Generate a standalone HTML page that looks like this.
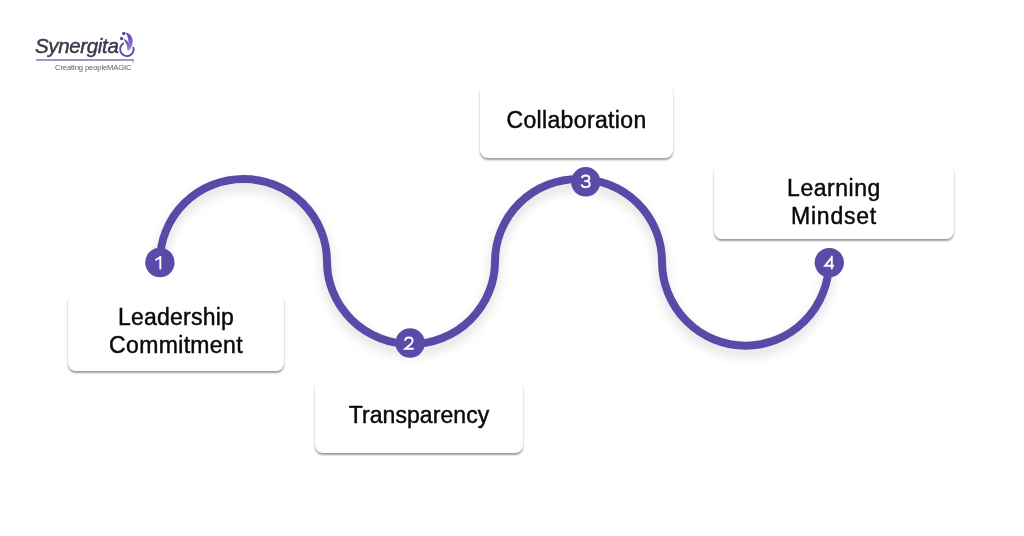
<!DOCTYPE html>
<html>
<head>
<meta charset="utf-8">
<style>
html,body{margin:0;padding:0;}
body{width:1024px;height:536px;background:#ffffff;position:relative;overflow:hidden;font-family:"Liberation Sans",sans-serif;}
.box{position:absolute;background:#fff;border-radius:8px;box-shadow:0 2px 2px rgba(0,0,0,0.38);}
.t{position:absolute;left:0;width:100%;text-align:center;font-size:23px;line-height:22px;color:#0a0a0a;white-space:nowrap;-webkit-text-stroke:0.45px #0a0a0a;will-change:transform;}
svg{position:absolute;left:0;top:0;}
.logo{position:absolute;}
</style>
</head>
<body>
<div class="box" id="b1" style="left:68px;top:293px;width:216px;height:77.5px;">
  <div class="t" style="top:13px;letter-spacing:0.22px;">Leadership</div>
  <div class="t" style="top:41px;letter-spacing:0.34px;">Commitment</div>
</div>
<div class="box" id="b2" style="left:315px;top:380px;width:208px;height:73px;">
  <div class="t" style="top:24px;letter-spacing:0.07px;">Transparency</div>
</div>
<div class="box" id="b3" style="left:480px;top:84px;width:193px;height:74px;">
  <div class="t" style="top:25px;letter-spacing:0.35px;">Collaboration</div>
</div>
<div class="box" id="b4" style="left:714px;top:164px;width:240px;height:75px;">
  <div class="t" style="top:13px;letter-spacing:0.54px;">Learning</div>
  <div class="t" style="top:41px;letter-spacing:0.77px;">Mindset</div>
</div>

<svg width="1024" height="536" viewBox="0 0 1024 536">
  <defs>
    <filter id="sh" x="-20%" y="-20%" width="140%" height="150%">
      <feGaussianBlur in="SourceAlpha" stdDeviation="6"/>
      <feOffset dx="0" dy="6" result="b"/>
      <feComponentTransfer><feFuncA type="linear" slope="0.15"/></feComponentTransfer>
      <feMerge><feMergeNode/><feMergeNode in="SourceGraphic"/></feMerge>
    </filter>
  </defs>
  <g filter="url(#sh)">
    <path d="M160,261.5 A83.5,82.5 0 0 1 327,261.5 A84,82.5 0 0 0 495,261.5 A83.5,82.5 0 0 1 662,261.5 A83.5,84.2 0 0 0 829,261.5" fill="none" stroke="#594ba8" stroke-width="8"/>
  </g>
  <g fill="#594ba8">
    <circle cx="159.9" cy="262.5" r="14.7"/>
    <circle cx="410.1" cy="343" r="14.7"/>
    <circle cx="585.7" cy="181.8" r="14.7"/>
    <circle cx="829.3" cy="262.6" r="14.7"/>
  </g>
  <g fill="none" stroke="#fff" stroke-width="1.9" stroke-linejoin="miter">
    <path d="M160.3,256 V269.4 M160.6,257 L155.3,260.2"/>
    <path d="M405.1,340.8 C405.1,338.4 406.8,337.5 408.9,337.5 C411,337.5 412.6,338.8 412.6,340.7 C412.6,342.3 411.7,343.3 410.4,344.5 L405.2,348.8 L413.7,348.8"/>
    <path d="M581.9,178 C582.2,176.2 583.6,175.5 585.7,175.5 C588,175.5 589.3,176.6 589.3,178.3 C589.3,180 588,181.1 585.8,181.1 L584.3,181.1 M585.8,181.1 C588.3,181.1 589.7,182.4 589.7,184.2 C589.7,186.1 588.1,187.1 585.7,187.1 C583.3,187.1 581.8,186.1 581.6,184.3"/>
    <path d="M831.8,255.8 V269.3 M832.2,256.9 L825,265.8 H834.1"/>
  </g>
</svg>

<div class="logo" style="left:0;top:0;width:150px;height:80px;">
  <div style="position:absolute;left:35px;top:35px;font-size:20.5px;line-height:22px;font-style:italic;color:#3a3848;white-space:nowrap;letter-spacing:-0.35px;-webkit-text-stroke:0.45px #3a3848;">Synergita</div>
  <div style="position:absolute;left:36px;top:59.2px;width:97.5px;height:1.4px;background:#9c96c2;"></div>
  <div style="position:absolute;left:55px;top:62.5px;font-size:7.6px;line-height:9px;color:#5a5a5a;white-space:nowrap;letter-spacing:-0.1px;">Creating peopleMAGIC</div>
  <svg width="150" height="80" viewBox="0 0 150 80" style="position:absolute;left:0;top:0;">
    <defs>
      <linearGradient id="lg1" x1="0" y1="0" x2="0" y2="1">
        <stop offset="0" stop-color="#5a3fb2"/>
        <stop offset="1" stop-color="#a98ce3"/>
      </linearGradient>
    </defs>
    <path d="M123.9,43.1 A6.8,6.8 0 1 0 133.3,47.0" fill="none" stroke="#5a46a8" stroke-width="1.8"/>
    <circle cx="123.8" cy="33.4" r="1.75" fill="#5c42b0"/>
    <circle cx="121.6" cy="38.5" r="1.65" fill="#5c42b0"/>
    <path d="M125.8,32.6 C130.2,33.4 132.8,37.2 132.7,41.8 C132.6,45.8 130.8,49.2 127.6,51.2 C128.4,48.2 128.9,45.2 128.5,41.8 C128.1,38.2 127.2,35.2 125.8,32.6 Z" fill="url(#lg1)"/>
    <path d="M123.4,38.9 C126.6,39.5 128.9,41.8 129.1,44.8 C129.3,47.2 128.5,49.2 127.2,50.6 C127.4,48.2 127.0,45.6 126.0,43.6 C125.3,41.9 124.4,40.2 123.4,38.9 Z" fill="url(#lg1)"/>
    <text x="132" y="64.2" style="font-family:'Liberation Sans',sans-serif;font-size:3.5px;" fill="#888">&#174;</text>
  </svg>
</div>
</body>
</html>
